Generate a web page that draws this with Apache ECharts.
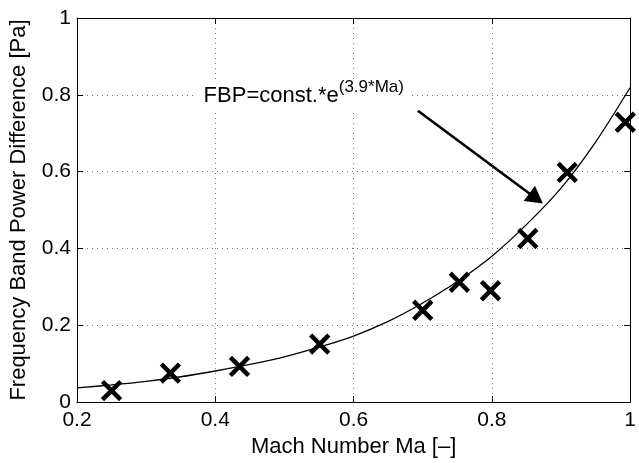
<!DOCTYPE html>
<html>
<head>
<meta charset="utf-8">
<title>Frequency band power vs Mach number</title>
<script src="https://cdn.jsdelivr.net/npm/echarts@6/dist/echarts.min.js"></script>
<style>
  html, body { margin: 0; padding: 0; background: #fff; }
  #chart { width: 639px; height: 463px; }
</style>
</head>
<body>
<div id="chart"></div>
<script>
// Measured band power differences
const machNumbers = [0.25, 0.335, 0.435, 0.551, 0.70, 0.753, 0.798, 0.852, 0.909, 0.993];
const bandPower = [0.030, 0.0755, 0.093, 0.151, 0.239, 0.312, 0.290, 0.426, 0.598, 0.7285];

// Exponential fit curve, sampled every 0.05
const fitMach = [0.2, 0.25, 0.3, 0.35, 0.4, 0.45, 0.5, 0.55, 0.6, 0.65, 0.7, 0.75, 0.8, 0.85, 0.9, 0.95, 1.0];
const fitPower = [0.037, 0.0447, 0.054, 0.066, 0.081, 0.098, 0.118, 0.143, 0.172, 0.210, 0.258, 0.314, 0.380, 0.462, 0.557, 0.677, 0.819];

// Axis ticks
const xTicks = [0.2, 0.4, 0.6, 0.8, 1];
const yTicks = [0, 0.2, 0.4, 0.6, 0.8, 1];

// Annotation text and arrow (data coordinates)
const fitLabelMain = 'FBP=const.*e';
const fitLabelExp = '(3.9*Ma)';
const fitLabelAt = [0.373, 0.7977];
const arrowFrom = [0.693, 0.7585];
const arrowTo = [0.864, 0.530];

const FONT = "'Liberation Sans', Arial, Helvetica, sans-serif";

const chart = echarts.init(document.getElementById('chart'), null, { renderer: 'canvas' });

const gridLine = { show: true, lineStyle: { color: '#7a7a7a', width: 1, type: [1, 4] } };
const boxLine = { show: true, onZero: false, lineStyle: { color: '#000', width: 1 } };
const inTick = { show: true, inside: true, length: 6, lineStyle: { color: '#000', width: 1 } };

const xCommon = { type: 'value', min: xTicks[0], max: xTicks[xTicks.length - 1], interval: 0.2 };
const yCommon = { type: 'value', min: yTicks[0], max: yTicks[yTicks.length - 1], interval: 0.2 };

chart.setOption({
  animation: false,
  backgroundColor: '#fff',
  textStyle: { fontFamily: FONT },
  grid: { left: 77, right: 3, top: 18, bottom: 57, containLabel: false },
  xAxis: [
    Object.assign({}, xCommon, {
      position: 'bottom',
      name: 'Mach Number Ma [\u2013]',
      nameLocation: 'middle',
      nameGap: 28,
      nameTextStyle: { fontSize: 22, color: '#000', fontFamily: FONT },
      axisLine: boxLine,
      axisTick: inTick,
      axisLabel: { fontSize: 21, color: '#000', margin: 8, fontFamily: FONT },
      splitLine: gridLine
    }),
    Object.assign({}, xCommon, {
      position: 'top',
      axisLine: boxLine,
      axisTick: inTick,
      axisLabel: { show: false },
      splitLine: { show: false }
    })
  ],
  yAxis: [
    Object.assign({}, yCommon, {
      position: 'left',
      name: 'Frequency Band Power Difference [Pa]',
      nameLocation: 'middle',
      nameGap: 47,
      nameTextStyle: { fontSize: 22, color: '#000', fontFamily: FONT },
      axisLine: boxLine,
      axisTick: inTick,
      axisLabel: { fontSize: 21, color: '#000', margin: 6, fontFamily: FONT },
      splitLine: gridLine
    }),
    Object.assign({}, yCommon, {
      position: 'right',
      axisLine: boxLine,
      axisTick: inTick,
      axisLabel: { show: false },
      splitLine: { show: false }
    })
  ],
  series: [
    {
      name: 'fit',
      type: 'line',
      data: fitMach.map((m, i) => [m, fitPower[i]]),
      smooth: 0.3,
      showSymbol: false,
      symbol: 'none',
      lineStyle: { color: '#000', width: 1.3 },
      silent: true,
      z: 3,
      markLine: {
        silent: true,
        symbol: ['none', 'triangle'],
        symbolSize: [19, 17],
        label: { show: false },
        lineStyle: { color: '#000', width: 2.6, type: 'solid', opacity: 1 },
        data: [[{ coord: arrowFrom }, { coord: arrowTo }]]
      },
      markPoint: {
        silent: true,
        symbol: 'circle',
        symbolSize: 0,
        data: [{ coord: fitLabelAt, value: 0 }],
        label: {
          show: true,
          position: 'right',
          distance: 0,
          backgroundColor: '#fff',
          padding: [0, 7],
          formatter: '{a|' + fitLabelMain + '}{b|' + fitLabelExp + '}',
          rich: {
            a: { fontSize: 22, color: '#000', fontFamily: FONT },
            b: { fontSize: 17, color: '#000', fontFamily: FONT, padding: [0, 0, 16, 0] }
          }
        }
      }
    },
    {
      name: 'measured',
      type: 'scatter',
      data: machNumbers.map((m, i) => [m, bandPower[i]]),
      clip: false,
      symbol: 'path://M0,0 L10,10 M10,0 L0,10',
      symbolSize: 15,
      itemStyle: { color: 'rgba(0,0,0,0)', borderColor: '#000', borderWidth: 4.5, borderCap: 'square', opacity: 1 },
      z: 4
    }
  ]
});
</script>
</body>
</html>
